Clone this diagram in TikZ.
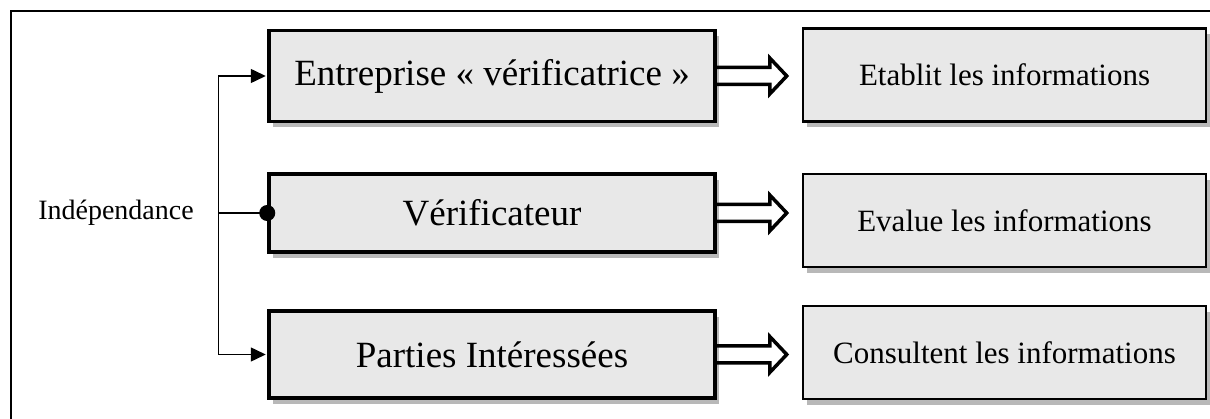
\documentclass[tikz,border=0pt]{standalone}
\usepackage{fontspec}
\setmainfont{Liberation Serif}
\usepackage{xcolor}
\usetikzlibrary{arrows.meta, shadows}
\definecolor{boxgray}{HTML}{E8E8E8}
\definecolor{shadowgray}{HTML}{B8B8B8}

\begin{document}
\begin{tikzpicture}[
        actor/.style = {fill = boxgray, draw, line width = 3.5pt, rectangle, minimum width = 446pt,
            drop shadow = {shadow xshift = 4pt, shadow yshift = -6pt, fill = shadowgray, opacity = 1},
            font = \fontsize{37}{44}\selectfont},
        task/.style = {fill = boxgray, draw, line width = 2.2pt, rectangle, minimum width = 403pt, minimum height = 93pt,
            drop shadow = {shadow xshift = 4pt, shadow yshift = -6pt, fill = shadowgray, opacity = 1},
            font = \fontsize{31}{37}\selectfont},
        link/.style = {line width = 1.5pt},
        hollow/.style = {line width = 3.5pt, line join = miter}
    ]

        \useasboundingbox (0pt, 0pt) rectangle (1210pt, -419pt);

        % Frame
        \draw [line width = 1.2pt] (11pt, -11pt) rectangle (1240pt, -450pt);

        \node [font = \fontsize{28}{34}\selectfont] (indep) at (116pt, -213pt) {Indépendance};

        \node [actor, minimum height = 91pt] (l1) at (492pt, -76pt) {Entreprise « vérificatrice »};
        \node [actor, minimum height = 78pt] (l2) at (492pt, -213pt) {Vérificateur};
        \node [actor, minimum height = 87pt] (l3) at (492pt, -354.5pt) {Parties Intéressées};

        \node [task] (r1) at (1004.5pt, -75pt) {Etablit les informations};
        \node [task] (r2) at (1004.5pt, -220.5pt) {Evalue les informations};
        \node [task] (r3) at (1004.5pt, -352.5pt) {Consultent les informations};

        % Independence links
        \coordinate (fork) at ([xshift = -49pt] l2.west);
        \draw [link, -{Triangle[length = 15pt, width = 14pt]}, shorten > = 1.5pt] (fork) |- (l1.west);
        \draw [link, -{Triangle[length = 15pt, width = 14pt]}, shorten > = 1.5pt] (fork) |- (l3.west);
        \draw [link, -{Circle[length = 16pt]}, shorten > = -8pt] (fork) -- (l2.west);

        % Hollow arrows
        \draw [hollow] (l1.east) ++(0pt, 8.5pt) -- ++(53pt, 0pt) -- ++(0pt, 9.5pt) -- ++(17pt, -18pt) -- ++(-17pt, -18pt) -- ++(0pt, 9.5pt) -- ++(-53pt, 0pt);
        \draw [hollow] (l2.east) ++(0pt, 8.5pt) -- ++(53pt, 0pt) -- ++(0pt, 9.5pt) -- ++(17pt, -18pt) -- ++(-17pt, -18pt) -- ++(0pt, 9.5pt) -- ++(-53pt, 0pt);
        \draw [hollow] (l3.east) ++(0pt, 8.5pt) -- ++(53pt, 0pt) -- ++(0pt, 9.5pt) -- ++(17pt, -18pt) -- ++(-17pt, -18pt) -- ++(0pt, 9.5pt) -- ++(-53pt, 0pt);

    \end{tikzpicture}
\end{document}
